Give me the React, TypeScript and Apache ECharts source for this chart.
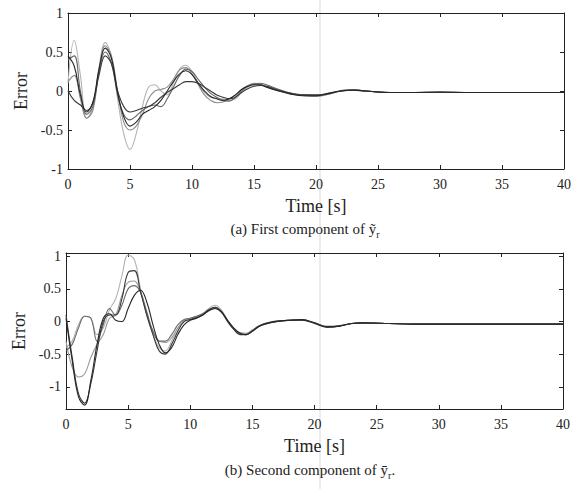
import React, { useEffect, useRef } from "react";
import * as echarts from "echarts";

// Time samples [s]
const TIME = [
  0, 0.5, 1, 1.5, 2, 2.5, 3, 3.5, 4, 4.5, 5, 5.5, 6, 6.5, 7, 7.5, 8, 8.5, 9, 9.5,
  10, 10.5, 11, 11.5, 12, 12.5, 13, 13.5, 14, 14.5, 15, 15.5, 16,
  17, 18, 19, 20, 21, 22, 23, 24,
  26, 28, 30, 32, 34, 36, 38, 40,
];

// (a) first component of the error — five runs
const A1 = [0.45,0.32,-0.05,-0.27,-0.15,0.28,0.55,0.42,-0.02,-0.33,-0.45,-0.40,-0.30,-0.25,-0.20,-0.12,0.00,0.12,0.22,0.26,0.21,0.10,0.00,-0.07,-0.10,-0.12,-0.10,-0.05,0.02,0.06,0.08,0.08,0.05,
  0.00,-0.04,-0.06,-0.06,-0.03,0.00,0.01,0.00,
  -0.02,-0.02,-0.01,-0.02,-0.02,-0.02,-0.02,-0.02];
const A2 = [0.10,0.65,0.20,-0.35,-0.22,0.30,0.62,0.45,-0.10,-0.55,-0.75,-0.55,-0.20,0.05,0.08,0.00,-0.05,0.10,0.28,0.33,0.25,0.10,-0.02,-0.08,-0.10,-0.10,-0.12,-0.10,-0.02,0.05,0.08,0.08,0.06,
  0.02,-0.03,-0.05,-0.05,-0.04,0.01,0.02,0.00,
  -0.02,-0.02,-0.02,-0.02,-0.02,-0.02,-0.02,-0.02];
const A3 = [0.40,0.45,0.00,-0.30,-0.20,0.25,0.50,0.36,-0.05,-0.30,-0.37,-0.32,-0.25,-0.20,-0.18,-0.20,-0.10,0.05,0.20,0.28,0.25,0.15,0.05,-0.03,-0.08,-0.12,-0.13,-0.08,0.00,0.06,0.09,0.10,0.08,
  0.02,-0.03,-0.05,-0.06,-0.04,0.00,0.02,0.00,
  -0.02,-0.02,-0.02,-0.02,-0.02,-0.02,-0.02,-0.02];
const A4 = [0.00,-0.12,-0.18,-0.25,-0.15,0.20,0.45,0.35,0.00,-0.20,-0.27,-0.25,-0.22,-0.20,-0.15,-0.08,-0.02,0.03,0.08,0.12,0.12,0.10,0.05,0.00,-0.05,-0.08,-0.10,-0.08,-0.02,0.03,0.06,0.07,0.06,
  0.01,-0.03,-0.05,-0.05,-0.03,0.00,0.01,0.00,
  -0.02,-0.02,-0.02,-0.02,-0.02,-0.02,-0.02,-0.02];
const A5 = [0.12,0.20,-0.10,-0.35,-0.25,0.25,0.58,0.45,0.00,-0.40,-0.50,-0.45,-0.30,-0.10,0.00,0.02,0.05,0.15,0.27,0.30,0.22,0.08,-0.05,-0.12,-0.15,-0.14,-0.10,-0.05,0.02,0.07,0.10,0.09,0.05,
  0.00,-0.04,-0.06,-0.07,-0.04,0.00,0.02,0.00,
  -0.02,-0.02,-0.02,-0.02,-0.02,-0.02,-0.02,-0.02];

// (b) second component of the error — five runs
const B1 = [0.05,-0.60,-1.15,-1.28,-0.90,-0.35,0.05,0.12,0.02,0.00,0.20,0.40,0.48,0.30,-0.05,-0.35,-0.48,-0.40,-0.20,-0.05,0.02,0.05,0.10,0.17,0.20,0.15,0.02,-0.10,-0.18,-0.20,-0.15,-0.08,-0.04,
  0.00,0.02,0.03,-0.02,-0.08,-0.07,-0.03,-0.02,
  -0.03,-0.04,-0.04,-0.04,-0.04,-0.04,-0.04,-0.04];
const B2 = [0.10,-0.55,-1.10,-1.25,-0.95,-0.45,0.00,0.10,0.10,0.35,0.75,0.78,0.45,0.10,-0.20,-0.45,-0.50,-0.35,-0.15,0.00,0.03,0.06,0.10,0.18,0.22,0.15,0.00,-0.12,-0.20,-0.20,-0.14,-0.07,-0.03,
  0.01,0.02,0.02,-0.03,-0.09,-0.07,-0.03,-0.02,
  -0.03,-0.04,-0.04,-0.04,-0.04,-0.04,-0.04,-0.04];
const B3 = [-0.40,-0.30,-0.05,0.08,0.05,-0.20,-0.10,0.18,0.35,0.70,1.02,0.95,0.50,0.10,-0.20,-0.40,-0.45,-0.30,-0.10,0.02,0.05,0.08,0.12,0.20,0.25,0.18,0.02,-0.10,-0.18,-0.19,-0.14,-0.07,-0.03,
  0.00,0.02,0.03,-0.02,-0.08,-0.07,-0.03,-0.02,
  -0.03,-0.04,-0.04,-0.04,-0.04,-0.04,-0.04,-0.04];
const B4 = [-0.30,-0.70,-0.85,-0.80,-0.55,-0.35,-0.20,0.05,0.10,0.40,0.60,0.62,0.45,0.10,-0.15,-0.30,-0.32,-0.25,-0.10,0.00,0.03,0.06,0.10,0.16,0.20,0.14,0.01,-0.10,-0.17,-0.18,-0.13,-0.07,-0.03,
  0.00,0.02,0.02,-0.02,-0.07,-0.06,-0.03,-0.02,
  -0.03,-0.04,-0.04,-0.04,-0.04,-0.04,-0.04,-0.04];
const B5 = [-0.45,-0.35,-0.10,0.08,0.05,-0.30,-0.05,0.20,0.10,0.25,0.50,0.55,0.45,0.15,-0.15,-0.30,-0.30,-0.20,-0.05,0.03,0.05,0.08,0.12,0.18,0.22,0.16,0.02,-0.11,-0.19,-0.20,-0.15,-0.08,-0.04,
  0.00,0.02,0.03,-0.02,-0.08,-0.07,-0.03,-0.02,
  -0.03,-0.04,-0.04,-0.04,-0.04,-0.04,-0.04,-0.04];

const Y_TICKS_B = [-1, -0.5, 0, 0.5, 1];
const X_NAME = "Time [s]";
const Y_NAME = "Error";
const CAPTION_A = { main: "(a) First component of ỹ", sub: "r", tail: "" };
const CAPTION_B = { main: "(b) Second component of ȳ", sub: "r", tail: "." };

const FONT = "'Liberation Serif', 'DejaVu Serif', serif";
const INK = "#222";

const TOP_RUNS = [
  { d: A2, c: "#b4b4b4" },
  { d: A5, c: "#8c8c8c" },
  { d: A3, c: "#666666" },
  { d: A4, c: "#3a3a3a" },
  { d: A1, c: "#262626" },
];
const BOT_RUNS = [
  { d: B3, c: "#b4b4b4" },
  { d: B4, c: "#9a9a9a" },
  { d: B5, c: "#6a6a6a" },
  { d: B2, c: "#3a3a3a" },
  { d: B1, c: "#262626" },
];

function xAxes(grid: number) {
  const base = {
    type: "value",
    gridIndex: grid,
    min: 0,
    max: 40,
    interval: 5,
    splitLine: { show: false },
    axisLine: { show: true, onZero: false, lineStyle: { color: INK, width: 1 } },
    axisTick: { show: true, inside: true, length: 4, lineStyle: { color: INK } },
  };
  return [
    {
      ...base,
      position: "bottom",
      axisLabel: { fontFamily: FONT, fontSize: 14, color: INK, margin: 8 },
      name: X_NAME,
      nameLocation: "middle",
      nameGap: 28,
      nameTextStyle: { fontFamily: FONT, fontSize: 18, fontWeight: "normal", color: INK },
    },
    { ...base, position: "top", axisLabel: { show: false } },
  ];
}

function yAxes(grid: number, bottom: boolean) {
  const range = bottom
    ? { min: -1.34, max: 1.05 }
    : { min: -1, max: 1, interval: 0.5 };
  const tick = { show: true, inside: true, length: 4, lineStyle: { color: INK } } as any;
  const label = { fontFamily: FONT, fontSize: 14, color: INK, margin: 5 } as any;
  if (bottom) {
    tick.customValues = Y_TICKS_B;
    label.customValues = Y_TICKS_B;
  }
  const base = {
    type: "value",
    gridIndex: grid,
    ...range,
    splitLine: { show: false },
    axisLine: { show: true, onZero: false, lineStyle: { color: INK, width: 1 } },
    axisTick: tick,
  };
  return [
    {
      ...base,
      position: "left",
      axisLabel: label,
      name: Y_NAME,
      nameLocation: "middle",
      nameGap: 34,
      nameTextStyle: { fontFamily: FONT, fontSize: 18, fontWeight: "normal", color: INK },
    },
    { ...base, position: "right", axisLabel: { show: false } },
  ];
}

function makeSeries(runs: { d: number[]; c: string }[], axis: number) {
  return runs.map((r, k) => ({
    type: "line",
    name: `run${axis}-${k}`,
    xAxisIndex: axis,
    yAxisIndex: axis,
    data: TIME.map((t, i) => [t, r.d[i]]),
    showSymbol: false,
    smooth: 0.4,
    lineStyle: { color: r.c, width: 1.1 },
    z: 2 + k,
  }));
}

function caption(c: { main: string; sub: string; tail: string }, x: number, y: number) {
  return {
    type: "text",
    x,
    y,
    z: 10,
    style: {
      text: `{a|${c.main}}{s|${c.sub}}` + (c.tail ? `{a|${c.tail}}` : ""),
      textAlign: "center",
      textVerticalAlign: "middle",
      fill: INK,
      rich: {
        a: { fontFamily: FONT, fontSize: 15, lineHeight: 20, fill: INK },
        s: { fontFamily: FONT, fontSize: 10, lineHeight: 10, verticalAlign: "bottom", fill: INK },
      },
    },
  };
}

export default function App() {
  const ref = useRef<HTMLDivElement>(null);
  useEffect(() => {
    if (!ref.current) return;
    const chart = echarts.init(ref.current, undefined, { renderer: "svg" });
    const option: any = {
      animation: false,
      backgroundColor: "#ffffff",
      grid: [
        { left: 68, top: 13, width: 496, height: 156 },
        { left: 66, top: 253, width: 497, height: 156 },
      ],
      xAxis: [...xAxes(0), ...xAxes(1)],
      yAxis: [...yAxes(0, false), ...yAxes(1, true)],
      series: [...makeSeries(TOP_RUNS, 0), ...makeSeries(BOT_RUNS, 2)],
      graphic: [
        {
          type: "rect",
          z: -1,
          shape: { x: 319, y: 0, width: 2, height: 489 },
          style: { fill: "#ececec" },
          silent: true,
        },
        caption(CAPTION_A, 305, 229),
        caption(CAPTION_B, 310, 470),
      ],
    };
    chart.setOption(option);
    return () => chart.dispose();
  }, []);
  return (
    <div
      ref={ref}
      style={{ position: "absolute", left: 0, top: 0, width: 582, height: 489 }}
    />
  );
}
